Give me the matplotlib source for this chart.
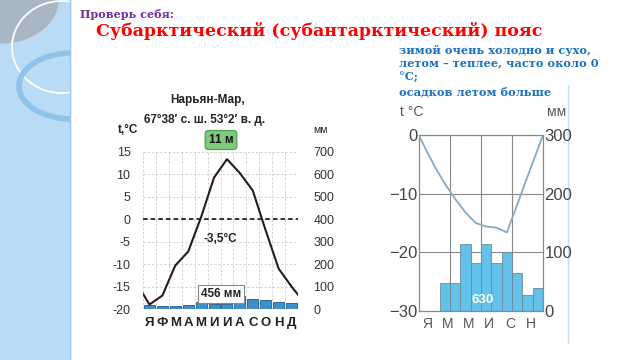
import matplotlib
matplotlib.use('Agg')
import matplotlib.pyplot as plt
from matplotlib.patches import Rectangle, Ellipse
from matplotlib import font_manager

# fonts
names = {f.name for f in font_manager.fontManager.ttflist}
NARROW = 'Liberation Sans Narrow' if 'Liberation Sans Narrow' in names else 'Liberation Sans'
SERIF = 'DejaVu Serif'

# --- Нарьян-Мар (left diagram) ---
nm_months = ['Я', 'Ф', 'М', 'А', 'М', 'И', 'И', 'А', 'С', 'О', 'Н', 'Д']
nm_temp = [-19, -17, -10.3, -7.2, 0.5, 9.3, 13.4, 10.3, 6.4, -2.5, -11, -15]
nm_temp_edge = [-16.6, -16.8]          # line ends at the Dec/Jan boundaries
nm_precip = [18, 14, 14, 18, 30, 22, 22, 58, 45, 40, 32, 28]
nm_temp_ticks = [-20, -15, -10, -5, 0, 5, 10, 15]
nm_mm_ticks = [0, 100, 200, 300, 400, 500, 600, 700]

# --- subantarctic station (right diagram) ---
sa_labels = ['Я', 'М', 'М', 'И', 'С', 'Н']
sa_temp = [-1.9, -5.3, -8.3, -10.9, -13.2, -15.0, -15.6, -15.8, -16.6, -11.9, -7.1, -2.4]
sa_temp_edge = [0, 0]
sa_precip = [0, 0, 47, 47, 114, 81, 114, 81, 100, 64, 27, 40]
sa_temp_ticks = [-30, -20, -10, 0]
sa_mm_ticks = [0, 100, 200, 300]

W, H = 640, 360
fig = plt.figure(figsize=(6.4, 3.6), dpi=100)
fig.patch.set_facecolor('white')


def box(x0, y0, x1, y1):
    # pixel box (top-left origin) -> figure fraction rect
    return [x0 / W, 1 - y1 / H, (x1 - x0) / W, (y1 - y0) / H]


# background layer in pixel coordinates
bg = fig.add_axes([0, 0, 1, 1])
bg.set_xlim(0, W)
bg.set_ylim(H, 0)
bg.axis('off')
strip = Rectangle((0, 0), 70, H, color='#b9dbf5', zorder=0)
bg.add_patch(strip)
bg.plot([70, 70], [0, H], color='#9cc6e8', lw=1, zorder=1)
for e in [Ellipse((0, 0), 116, 86, color='#a9b7c4', zorder=1),
          Ellipse((62, 47), 100, 92, fill=False, ec='white', lw=1.3, zorder=2),
          Ellipse((72, 86), 106, 66, fill=False, ec='#8fc3ea', lw=4, zorder=2)]:
    bg.add_patch(e)
    e.set_clip_path(strip)
bg.plot([568, 568], [85, 343], color='#c5e0f3', lw=1)

# slide texts
bg.text(80, 14, 'Проверь себя:', family=SERIF, fontweight='bold', fontsize=8,
        color='#7030a0', va='center')
bg.text(96, 31, 'Субарктический (субантарктический) пояс', family=SERIF,
        fontweight='bold', fontsize=12.5, color='#ff0000', va='center')
for txt, yy in [('зимой очень холодно и сухо,', 50), ('летом – теплее, часто около 0', 63),
                ('°С;', 76), ('осадков летом больше', 92)]:
    bg.text(399, yy, txt, family=SERIF, fontweight='bold', fontsize=8.2,
            color='#1e73be', va='center')

# left diagram captions
bg.text(208, 100, 'Нарьян-Мар,', family=NARROW, fontweight='bold', fontsize=8.5,
        color='#222', ha='center', va='center')
bg.text(205, 120, '67°38′ с. ш. 53°2′ в. д.', family=NARROW, fontweight='bold',
        fontsize=8.5, color='#222', ha='center', va='center')
bg.text(128, 130, 't,°C', family=NARROW, fontweight='bold', fontsize=8.5,
        color='#222', ha='center', va='center')
bg.text(320, 130, 'мм', family=NARROW, fontsize=7.5, color='#222',
        ha='center', va='center')
bg.text(221, 140, '11 м', family=NARROW, fontweight='bold', fontsize=8.5,
        color='#111', ha='center', va='center',
        bbox=dict(boxstyle='round,pad=0.3', fc='#7fc97f', ec='#4a9a4a', lw=0.8))

# right diagram captions
bg.text(412, 112, 't °C', family=NARROW, fontsize=10, color='#555',
        ha='center', va='center')
bg.text(557, 112, 'мм', family=NARROW, fontsize=10, color='#555',
        ha='center', va='center')

centers = [i + 0.5 for i in range(12)]

# ---------------- left diagram ----------------
ax_mm = fig.add_axes(box(143, 152, 298, 309))
ax_t = ax_mm.twinx()

ax_mm.set_xlim(0, 12)
ax_mm.set_ylim(0, 700)
ax_mm.bar(centers, nm_precip, width=0.85, color='#3d8fcc', edgecolor='#1d5a8c',
          lw=0.6, zorder=2)
ax_mm.set_xticks(centers)
ax_mm.set_xticklabels(nm_months, family=NARROW, fontweight='bold', fontsize=9.5,
                      color='#222')
ax_mm.set_xticks(range(13), minor=True)
ax_mm.yaxis.tick_right()
ax_mm.set_yticks(nm_mm_ticks)
ax_mm.set_yticklabels([str(v) for v in nm_mm_ticks], family=NARROW, fontsize=9,
                      color='#333')
ax_mm.tick_params(which='both', length=0)
ax_mm.tick_params(axis='y', pad=11)
ax_mm.tick_params(axis='x', pad=6)
ax_mm.grid(which='minor', axis='x', color='#cfcfcf', ls=(0, (3, 2)), lw=0.6)
ax_mm.grid(which='major', axis='y', color='#cfcfcf', ls=(0, (3, 2)), lw=0.6)
ax_mm.set_axisbelow(True)
for s in ax_mm.spines.values():
    s.set_visible(False)

ax_t.set_ylim(-20, 15)
ax_t.yaxis.tick_left()
ax_t.set_yticks(nm_temp_ticks)
ax_t.set_yticklabels([str(v) for v in nm_temp_ticks], family=NARROW, fontsize=9,
                     color='#333')
ax_t.tick_params(length=0, pad=9)
for s in ax_t.spines.values():
    s.set_visible(False)
ax_t.axhline(0, color='black', ls=(0, (3, 2)), lw=1.1)
ax_t.plot([0] + centers + [12], [nm_temp_edge[0]] + nm_temp + [nm_temp_edge[1]],
          color='#2b1a1a', lw=1.5, zorder=3)
ax_t.text(6.0, -4.4, '-3,5°C', family=NARROW, fontweight='bold', fontsize=8.5,
          color='#222', ha='center', va='center')
bg.plot([205, 237], [231, 231], color='#222', lw=1)
ax_t.text(6.05, -16.7, '456 мм', family=NARROW, fontweight='bold', fontsize=8.5,
          color='#222', ha='center', va='center', zorder=4,
          bbox=dict(boxstyle='square,pad=0.25', fc='white', ec='#888', lw=0.8))

# ---------------- right diagram ----------------
ax_mm2 = fig.add_axes(box(419, 135, 543, 311))
ax_t2 = ax_mm2.twinx()

ax_mm2.set_xlim(0, 12)
ax_mm2.set_ylim(0, 300)
ax_mm2.bar(centers, sa_precip, width=1.0, color='#64c1e9', edgecolor='#6f8a99',
           lw=0.6, zorder=2)
ax_mm2.set_xticks([c + 0.3 for c in centers[::2]])
ax_mm2.set_xticklabels(sa_labels, family=NARROW, fontsize=10, color='#555')
ax_mm2.set_xticks([3, 6, 9], minor=True)
ax_mm2.yaxis.tick_right()
ax_mm2.set_yticks(sa_mm_ticks)
ax_mm2.set_yticklabels([str(v) for v in sa_mm_ticks], family=NARROW, fontsize=12,
                       color='#444')
ax_mm2.tick_params(which='both', length=0)
ax_mm2.tick_params(axis='y', pad=1)
ax_mm2.tick_params(axis='x', pad=4)
ax_mm2.grid(which='minor', axis='x', color='#888', lw=0.8)
ax_mm2.grid(which='major', axis='y', color='#888', lw=0.8)
ax_mm2.set_axisbelow(True)
for k, s in ax_mm2.spines.items():
    s.set_color('#888')
    s.set_linewidth(0.9)
ax_mm2.spines['top'].set_linestyle(':')

ax_t2.set_ylim(-30, 0)
ax_t2.yaxis.tick_left()
ax_t2.set_yticks(sa_temp_ticks)
ax_t2.set_yticklabels(['−30', '−20', '−10', '0'], family=NARROW, fontsize=12,
                      color='#444')
ax_t2.tick_params(length=0, pad=1)
for s in ax_t2.spines.values():
    s.set_visible(False)
ax_t2.plot([0] + centers + [12], [sa_temp_edge[0]] + sa_temp + [sa_temp_edge[1]],
           color='#86aac2', lw=1.3, zorder=3)
ax_t2.text(6.2, -28.1, '630', family=NARROW, fontweight='bold', fontsize=9.5,
           color='white', ha='center', va='center')

fig.savefig('out.png', dpi=100)
